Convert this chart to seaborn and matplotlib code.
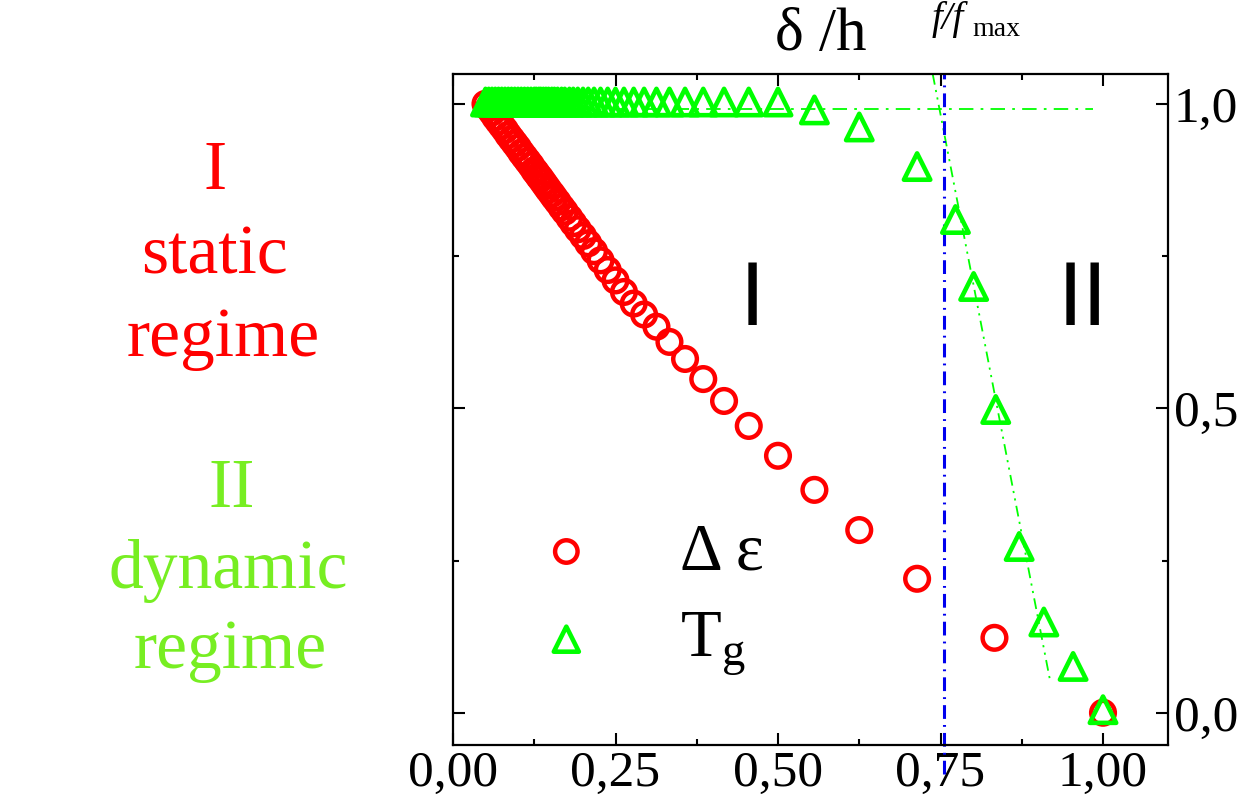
import matplotlib
matplotlib.use("Agg")
import matplotlib.pyplot as plt
import seaborn as sns
from matplotlib.ticker import FixedLocator

# ---------------- data ----------------
x_eps = [1.000, 0.833, 0.714, 0.625, 0.556, 0.500, 0.455, 0.417, 0.385, 0.357,
         0.333, 0.313, 0.294, 0.278, 0.263, 0.250, 0.238, 0.227, 0.217, 0.208,
         0.200, 0.192, 0.185, 0.179, 0.172, 0.167, 0.161, 0.156, 0.152, 0.147,
         0.143, 0.139, 0.135, 0.132, 0.128, 0.125, 0.120, 0.115, 0.110, 0.105,
         0.100, 0.095, 0.090, 0.085, 0.080, 0.075, 0.070, 0.065, 0.060, 0.055,
         0.050]
y_eps = [0.000, 0.123, 0.220, 0.300, 0.366, 0.422, 0.471, 0.512, 0.548, 0.581,
         0.609, 0.634, 0.654, 0.672, 0.691, 0.710, 0.727, 0.743, 0.758, 0.771,
         0.783, 0.794, 0.804, 0.813, 0.823, 0.830, 0.839, 0.846, 0.852, 0.859,
         0.865, 0.871, 0.877, 0.881, 0.887, 0.891, 0.899, 0.906, 0.913, 0.920,
         0.928, 0.935, 0.942, 0.949, 0.957, 0.964, 0.971, 0.978, 0.986, 0.993,
         1.000]

x_tg = [1.000, 0.954, 0.909, 0.871, 0.835, 0.801, 0.773, 0.714, 0.625, 0.556,
        0.500, 0.455, 0.417, 0.385, 0.357, 0.333, 0.313, 0.294, 0.278, 0.263,
        0.250, 0.238, 0.227, 0.217, 0.208, 0.200, 0.192, 0.185, 0.179, 0.172,
        0.167, 0.161, 0.156, 0.152, 0.147, 0.143, 0.139, 0.135, 0.132, 0.128,
        0.125, 0.120, 0.115, 0.110, 0.105, 0.100, 0.095, 0.090, 0.085, 0.080,
        0.075, 0.070, 0.065, 0.060, 0.055, 0.050]
y_tg = [0.005, 0.076, 0.149, 0.273, 0.498, 0.700, 0.810, 0.897, 0.962, 0.990,
        1.003, 1.003, 1.003, 1.003, 1.003, 1.003, 1.003, 1.003, 1.003, 1.003,
        1.003, 1.003, 1.003, 1.003, 1.003, 1.003, 1.003, 1.003, 1.003, 1.003,
        1.003, 1.003, 1.003, 1.003, 1.003, 1.003, 1.003, 1.003, 1.003, 1.003,
        1.003, 1.003, 1.003, 1.003, 1.003, 1.003, 1.003, 1.003, 1.003, 1.003,
        1.003, 1.003, 1.003, 1.003, 1.003, 1.003]

# fit guide lines
fit_plateau_x = [0.050, 0.985]
fit_plateau_y = [0.992, 0.992]
fit_slope_x = [0.738, 0.918]
fit_slope_y = [1.049, 0.056]
vline_x = [0.755, 0.755]
vline_y = [-0.10, 1.05]

xtick_vals = [0.00, 0.25, 0.50, 0.75, 1.00]
xtick_labels = ["0,00", "0,25", "0,50", "0,75", "1,00"]
xminor_vals = [0.125, 0.375, 0.625, 0.875, 1.125]
ytick_vals = [0.0, 0.5, 1.0]
ytick_labels = ["0,0", "0,5", "1,0"]
yminor_vals = [0.25, 0.75]

# ---------------- style ----------------
sns.set_theme(style="white")
plt.rcParams["font.family"] = ["Liberation Serif", "DejaVu Serif"]
plt.rcParams["mathtext.fontset"] = "custom"
plt.rcParams["mathtext.rm"] = "Liberation Serif"
plt.rcParams["mathtext.it"] = "Liberation Serif:italic"
plt.rcParams["text.color"] = "black"
plt.rcParams["xtick.color"] = "black"
plt.rcParams["ytick.color"] = "black"
plt.rcParams["xtick.labelcolor"] = "black"
plt.rcParams["ytick.labelcolor"] = "black"

RED = "#FF0000"
GREEN = "#00FF00"
LGREEN = "#77EE22"

W, H = 1238, 809
fig = plt.figure(figsize=(W / 100, H / 100), dpi=100)
ax = fig.add_axes([453 / W, 1 - 745 / H, (1168 - 453) / W, (745 - 74) / H])

def fx(px):
    return px / W

def fy(py):
    return 1 - py / H

# guide lines
sns.lineplot(x=fit_plateau_x, y=fit_plateau_y, ax=ax, color=GREEN, lw=1.3,
             linestyle=(0, (8, 4, 1.5, 4)), zorder=1, sort=False)
sns.lineplot(x=fit_slope_x, y=fit_slope_y, ax=ax, color=GREEN, lw=1.3,
             linestyle=(0, (6, 3, 1.2, 3, 1.2, 3)), zorder=1, sort=False)
ax.plot(vline_x, vline_y, color="#0000EE", lw=2.2,
        linestyle=(0, (4.5, 2.0, 0.6, 2.0)), zorder=2, clip_on=False)

# data series
sns.scatterplot(x=x_eps, y=y_eps, ax=ax, marker="o", s=290,
                facecolor="none", edgecolor=RED, linewidth=3.2,
                zorder=3, label="Δ ε")
sns.scatterplot(x=x_tg, y=y_tg, ax=ax, marker="^", s=360,
                facecolor="none", edgecolor=GREEN, linewidth=3.3,
                zorder=4, label=r"T$_\mathregular{g}$")

ax.set_xlim(0.0, 1.10)
ax.set_ylim(-0.053, 1.049)

ax.xaxis.set_major_locator(FixedLocator(xtick_vals))
ax.set_xticklabels(xtick_labels)
ax.xaxis.set_minor_locator(FixedLocator(xminor_vals))
ax.yaxis.set_major_locator(FixedLocator(ytick_vals))
ax.set_yticklabels(ytick_labels)
ax.yaxis.set_minor_locator(FixedLocator(yminor_vals))

ax.tick_params(which="both", direction="in", top=True, bottom=True,
               left=True, right=True, labelleft=False, labelright=True,
               color="black", width=1.5)
ax.tick_params(which="major", length=8.6, labelsize=37, pad=4)
ax.tick_params(which="minor", length=4.3)
for s in ax.spines.values():
    s.set_visible(True)
    s.set_color("black")
    s.set_linewidth(1.6)
ax.set_xlabel("")
ax.set_ylabel("")

# legend
leg = ax.legend(loc="upper left", bbox_to_anchor=(fx(533), fy(522)),
                bbox_transform=fig.transFigure, frameon=False, fontsize=48,
                borderpad=0, borderaxespad=0, handlelength=1.0,
                handletextpad=1.2, labelspacing=0.4, markerscale=0.95)
for t in leg.get_texts():
    t.set_color("black")

# region labels inside plot
fig.text(fx(752), fy(325), "I", family="Liberation Sans", fontsize=65,
         ha="center", va="baseline", color="black")
fig.text(fx(1083), fy(325), "II", family="Liberation Sans", fontsize=65,
         ha="center", va="baseline", color="black")

# top labels
fig.text(fx(821), fy(50), "δ /h", fontsize=44, ha="center", va="baseline")
fig.text(fx(932), fy(29), "f/f", fontsize=28, style="italic",
         ha="left", va="baseline")
fig.text(fx(972), fy(36), "max", fontsize=20, ha="left", va="baseline")

# left side annotations
fig.text(fx(215), fy(189), "I", fontsize=50, color=RED, ha="center", va="baseline")
fig.text(fx(215), fy(274), "static", fontsize=50, color=RED, ha="center", va="baseline")
fig.text(fx(223), fy(356), "regime", fontsize=50, color=RED, ha="center", va="baseline")
fig.text(fx(232), fy(507), "II", fontsize=50, color=LGREEN, ha="center", va="baseline")
fig.text(fx(228), fy(588), "dynamic", fontsize=50, color=LGREEN, ha="center", va="baseline")
fig.text(fx(230), fy(668), "regime", fontsize=50, color=LGREEN, ha="center", va="baseline")

fig.savefig("out.png", dpi=100)
